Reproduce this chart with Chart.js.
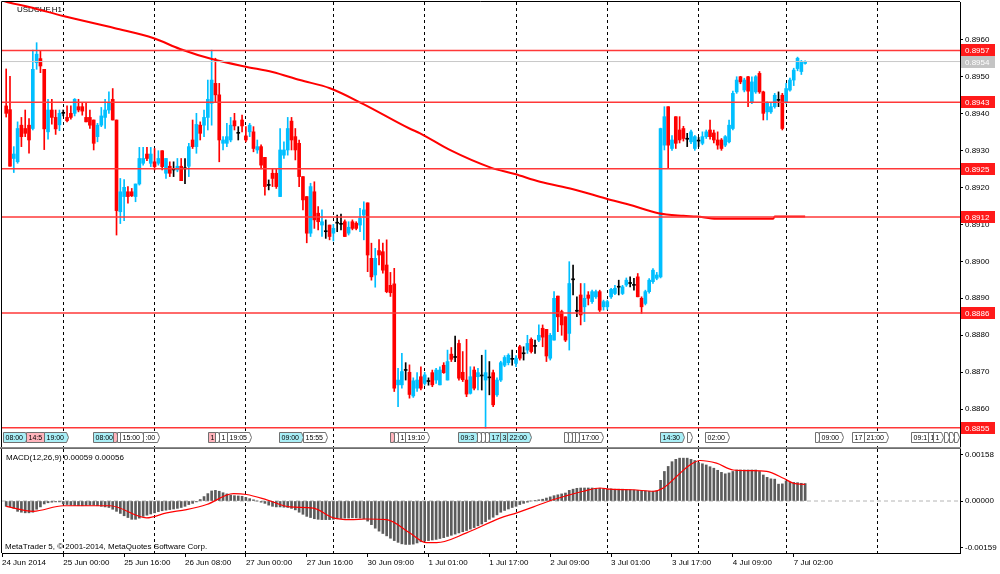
<!DOCTYPE html>
<html>
<head>
<meta charset="utf-8">
<script src="https://cdn.jsdelivr.net/npm/chart.js@4.4.1/dist/chart.umd.min.js"></script>
<style>
  html, body { margin: 0; padding: 0; background: #fff; }
  #wrap { position: relative; width: 1000px; height: 574px; overflow: hidden; }
  #priceChart { position: absolute; left: 0; top: 0; }
  #macdChart { position: absolute; left: 0; top: 448px; }
</style>
</head>
<body>
<div id="wrap">
  <canvas id="priceChart" width="1000" height="448"></canvas>
  <canvas id="macdChart" width="1000" height="126"></canvas>
</div>
<script>
// USDCHF H1 candles, prices in 1/10000 (8942 = 0.8942), one bar per hour
const op = [8942,8941,8927.8,8926.9,8936.8,8935.9,8936.8,8935.9,8953.7,8954.8,
  8951.9,8935,8940.9,8938.9,8936.9,8940,8938.9,8940,8940,8941.8,
  8941.8,8938.9,8938.9,8938.2,8933.7,8936.8,8938.9,8940.9,8943.8,8938.2,
  8913.4,8917.5,8918.8,8918.8,8917.5,8920.9,8926.5,8929,8926.5,8926.9,
  8926.5,8929.9,8923.8,8925.7,8924.7,8924.7,8925.7,8925,8925.7,8932.8,
  8931,8936.8,8936.8,8938.9,8942.7,8948.1,8945,8931.9,8931.9,8932.8,
  8938,8934.6,8938.2,8933.9,8935,8935,8930.1,8931,8928.1,8920.5,
  8923.8,8923.8,8917.5,8928.7,8930.1,8937.9,8933.7,8931.9,8922.9,8917.5,
  8907.6,8918.8,8913,8909.8,8908,8909.8,8907.6,8910.3,8910,8910.7,
  8907.6,8910.7,8910.3,8909.8,8912.5,8915.8,8900.8,8896.3,8902.9,8902.6,
  8899,8893.5,8893.9,8866.6,8866.6,8870.5,8870,8863.6,8865.7,8868.8,
  8867,8867.5,8869.9,8867.9,8866.6,8871.9,8867.9,8874.9,8874,8877.8,
  8870,8867.9,8864.3,8870.6,8868.8,8869,8867.9,8868.5,8869.9,8863.9,
  8867.9,8871.9,8872.6,8873.5,8872.4,8876.9,8875,8876,8878.9,8877,
  8878.7,8881.9,8881.6,8873.8,8878.7,8890.6,8886.4,8885,8880.5,8895,
  8886.5,8890.9,8887.7,8890.9,8889.1,8890.4,8891.8,8887.7,8887.7,8890.4,
  8891.3,8893,8891.3,8893.6,8894,8893.5,8895.8,8890,8888.6,8891.8,
  8894.5,8895.4,8895.8,8931.4,8941.8,8930.5,8939.1,8935.5,8935.9,8933,
  8932.3,8930.5,8932.5,8931.9,8933.7,8935.5,8934.7,8932.8,8932.8,8931.4,
  8932.3,8935.9,8945.8,8949.9,8946.3,8949.9,8943.1,8945.8,8950.8,8945.8,
  8940.4,8940.4,8941.8,8943.5,8944.9,8943.1,8946.3,8949,8952.1,8951.3,
  8953.5];
const hi = [8952,8950,8931,8937.7,8938.9,8940.9,8938.6,8957.1,8959.1,8956.9,
  8951.9,8943.8,8943.8,8940.9,8940.9,8940.9,8942,8942,8944,8943.8,
  8942.9,8942.9,8940.9,8938.2,8937.3,8941.6,8943.8,8945.8,8946.7,8938.2,
  8922.4,8922.1,8920.2,8919.7,8920.9,8930.8,8930.8,8930.8,8930.8,8930.5,
  8929.9,8929.9,8927.8,8926.9,8926.9,8927.8,8927.8,8927.8,8931.9,8938.2,
  8940,8937.7,8940.9,8949,8957.1,8954.9,8948.1,8933.7,8937.3,8938.9,
  8940,8936.4,8939.5,8936.4,8937.3,8936.4,8932.8,8931.5,8928.1,8922,
  8925.1,8925.1,8935.9,8932.3,8938.9,8938.9,8935.9,8932.8,8922.9,8917.5,
  8921.1,8921.5,8914.8,8913.9,8911.2,8909.8,8910,8912.5,8912.8,8911.2,
  8910.7,8911.2,8910.7,8914.3,8916.1,8915.8,8904.9,8903.5,8905.9,8904.9,
  8905.8,8897,8898.1,8871.1,8875.1,8872.6,8872,8868.5,8869.9,8871.5,
  8870,8868.5,8870.6,8871.1,8871.5,8872.6,8876,8876.7,8879.8,8878.7,
  8875.6,8878.9,8871.5,8871.5,8871.1,8874.6,8876,8872.9,8870.6,8868.5,
  8873,8874.5,8875,8876,8874.5,8877.3,8876.9,8880,8879.3,8878.7,
  8882.8,8882.8,8881.6,8880.5,8891.8,8890.6,8886.8,8885,8899.9,8899,
  8890.4,8894,8894,8891.8,8892.2,8892.2,8892.2,8889.5,8889.5,8892.7,
  8893.5,8894.9,8893.5,8895.5,8895.8,8895.4,8896.7,8890.4,8892.2,8895.3,
  8898,8897,8936,8941.8,8941.8,8934,8939.1,8939.1,8936.5,8934.6,
  8935.5,8934,8933.5,8935,8935.5,8938.2,8935.5,8935,8933.2,8934,
  8938.2,8946,8949.9,8950,8949.5,8950,8949.9,8950.2,8951.3,8946,
  8943.1,8943,8945.4,8945.8,8945.4,8948.1,8949.5,8952.2,8955.2,8954.3,
  8954.2];
const lo = [8939,8925.7,8924,8926.5,8931,8933.7,8929.2,8935.5,8951.9,8951,
  8930.2,8933,8937.1,8934.3,8935.3,8939.3,8937.7,8938.4,8939.3,8940.4,
  8939.5,8937.7,8935.9,8930.1,8932.3,8936.4,8935.9,8940,8938.2,8907.1,
  8910.2,8911,8915.7,8917.5,8916.1,8920.6,8926,8927.2,8925.6,8924.7,
  8926,8924.7,8922.4,8922.9,8922.9,8924.2,8921.8,8921,8922.9,8930.5,
  8929.2,8932.8,8933.7,8935.5,8936.8,8943.1,8926.9,8930.1,8931,8932.3,
  8935.5,8932.8,8935,8932.3,8933.7,8929.6,8929.2,8925,8917.9,8919.3,
  8920.2,8919.7,8917.5,8927.8,8928.7,8930.1,8927.4,8920.2,8913.9,8905,
  8906.7,8908.9,8908.5,8906.7,8906.2,8905.8,8905.5,8908,8908.5,8906.7,
  8907.1,8908.5,8908.5,8908,8905.8,8897.2,8894.9,8893,8899,8896.8,
  8891.5,8890.5,8864.8,8860.7,8865.7,8867.9,8863,8863.2,8864.8,8865.2,
  8866.5,8866.5,8866.1,8867,8866.6,8869.7,8867.9,8872.9,8872.9,8867.9,
  8867.5,8863.4,8864.1,8865.2,8865.2,8865.2,8854.9,8863.9,8860.7,8863.5,
  8867.5,8871.5,8872,8871.9,8871.5,8873.3,8873.3,8875.1,8875.2,8875.1,
  8878.3,8876.9,8872.9,8873.3,8878.7,8881,8880,8878.3,8876,8890.9,
  8885,8882.8,8883.7,8888.2,8888.6,8890,8886.4,8886.8,8887,8890,
  8891,8890.9,8891,8893.2,8893.1,8892.2,8890.4,8885.9,8888.2,8891.4,
  8894,8895,8895.5,8930.1,8925.1,8930,8930.5,8932,8932.5,8931,
  8931.8,8930,8931,8931.5,8933.2,8933,8932,8930.3,8930,8931,
  8932,8935.5,8945.4,8948,8945.8,8941.8,8942.6,8945.4,8945.4,8938.2,
  8938.2,8940,8941.4,8941.8,8935.5,8942.7,8946,8947.5,8951.5,8950.5,
  8953.3];
const cl = [8940,8925.7,8929,8935.9,8933.7,8934.6,8932.8,8951.9,8956,8952.8,
  8935.8,8940.9,8938.9,8935.8,8940,8940,8938,8938.9,8943.8,8940.9,
  8940.6,8937.7,8936.8,8931.9,8936.8,8939.3,8940.9,8942.7,8938.2,8913.7,
  8918.8,8920,8917.5,8917.7,8920.9,8927.8,8927.8,8927.8,8929,8925.6,
  8927.8,8925.6,8927.8,8923.8,8924.7,8925.7,8921.8,8925,8931,8931,
  8937,8934.6,8938.9,8943.8,8949,8945,8932.8,8932.8,8933.7,8936.8,
  8936.6,8934.6,8936.6,8932.8,8936.8,8930.5,8931,8926,8920.2,8920.5,
  8922.4,8920.2,8930.1,8930.1,8935.9,8932.8,8930.1,8922.9,8916.6,8907.6,
  8920.2,8911.2,8910.7,8910.7,8908,8906.7,8908.9,8910.3,8910,8906.7,
  8909.2,8908.9,8908.9,8911.6,8913.9,8901.7,8895.8,8900.8,8901.7,8897.6,
  8891.8,8891.5,8865.7,8867.9,8870.2,8870.5,8864,8867.7,8867.9,8865.7,
  8869.3,8867.5,8866.6,8870.6,8870.6,8869.9,8872.9,8873.5,8874,8868.4,
  8868,8864.1,8868.8,8865.7,8869.9,8869,8869.9,8868.5,8861.2,8867.9,
  8872.6,8874,8874.6,8873.5,8873.8,8873.8,8875,8877.8,8875.6,8877,
  8880,8879.5,8874.4,8880,8890,8885,8882.8,8878.7,8894,8895,
  8886.5,8885.5,8890,8890,8891.8,8891.8,8886.8,8889.1,8889.1,8892.4,
  8892.7,8893,8893.1,8894.9,8894,8893.5,8890.4,8887.7,8891.8,8894.9,
  8897.6,8896.3,8935.9,8939.1,8931.4,8932.8,8931.9,8932.8,8933.2,8933,
  8935,8933.7,8932.5,8933.7,8935,8933.7,8932.8,8931.4,8930.5,8933.7,
  8936.8,8945.4,8949,8948.5,8949,8946,8948.5,8949.9,8945.8,8940,
  8942.7,8941.8,8944.9,8943.5,8935.9,8946.7,8949,8951.7,8954.9,8953.9,
  8954];

// moving average (bar index, price/10000)
const maIdx = [-1.1, 1, 6.3, 15, 28.6, 38.8, 45.7, 54.3, 63, 70, 77.2, 85.1, 93.9, 106, 108.8,
  116.6, 127.2, 133.7, 140.3, 149, 157.6, 164.8, 171.4, 178, 181.5, 186.7, 201.6, 202, 210];
const maVal = [8970.5, 8969.9, 8968.7, 8966.3, 8963, 8960.3, 8957.4, 8954.6, 8952.6, 8951.2, 8949, 8946.8, 8942.5, 8935.9, 8934.6,
  8930.1, 8925.4, 8923.6, 8921.5, 8919.5, 8917, 8915, 8913, 8912.3, 8912.1, 8911.5, 8911.5, 8912.1, 8912.1];

// horizontal levels
const lineVals = [0.8957, 0.8943, 0.8925, 0.8912, 0.8886, 0.8855];
const lineText = ['0.8957', '0.8943', '0.8925', '0.8912', '0.8886', '0.8855'];
const bidVal = 0.8954;
const bidText = '0.8954';

// MACD(12,26,9) main histogram in 1e-5 units, one per bar
const macdHist = [-18,-20,-25,-35,-38,-40,-40,-38,-28,-20,
  -10,-6,-4,-3,-3,-10,-12,-14,-15,-16,
  -16,-15,-14,-14,-16,-18,-20,-22,-28,-35,
  -42,-50,-56,-62,-62,-58,-52,-48,-44,-40,
  -36,-33,-31,-29,-27,-25,-22,-18,-12,-8,
  -3,5,15,25,34,36,33,28,24,20,
  18,17,16,12,8,4,0,-4,-8,-14,
  -18,-20,-20,-21,-22,-25,-30,-38,-45,-52,
  -56,-60,-62,-63,-63,-63,-62,-60,-59,-58,
  -58,-57,-57,-58,-60,-68,-80,-92,-102,-110,
  -118,-126,-134,-140,-145,-147,-147,-146,-142,-138,
  -136,-134,-132,-130,-127,-124,-120,-116,-112,-108,
  -104,-100,-95,-90,-84,-78,-70,-62,-55,-47,
  -38,-32,-27,-22,-18,-12,-8,-4,0,2,
  4,6,10,14,18,21,24,27,36,40,
  43,44,44,44,44,43,43,42,41,41,
  40,40,40,39,38,37,36,35,34,33,
  33,34,70,100,117,133,141,145,145,145,
  141,137,130,126,122,116,111,104,97,92,
  95,100,105,105,105,105,105,105,100,88,
  80,75,74,57,58,68,63,63,62,60,
  59];
// signal line points (bar index, 1e-5 units)
const sigIdx = [0, 7.1, 15, 27.3, 36.9, 42.2, 47.4, 52.7, 59.7, 63.2, 68.5, 74.6, 80.7, 86, 90.4, 94.7, 100,
  106.1, 110.5, 113.1, 121, 129.8, 134.2, 138.6, 142.9, 147.3, 151.7, 156.1, 158.7, 164.8, 170.1, 172.7,
  176.2, 179.7, 182.4, 186.7, 191.1, 195.5, 199.9, 204.3, 206.9, 210];
const sigVal = [-18, -35, -16, -16, -57, -40, -29, -12, 25, 22, 4, -20, -24, -57, -63, -61, -63,
  -108, -141, -141, -108, -58, -40, -20, 1, 18, 33, 44, 40, 38, 33, 44,
  83, 122, 137, 128, 105, 103, 100, 77, 60, 56];

// time axis
const dayIdx = [15, 39, 63, 86, 110, 134, 158, 182, 205, 229];
const X0 = -1.1, X1 = 250.7;
const tickIdx = [X0, 15, 31, 47, 63, 79, 95, 111, 127, 143, 159, 175, 191, 207];
const tickText = ['24 Jun 2014', '25 Jun 00:00', '25 Jun 16:00', '26 Jun 08:00', '27 Jun 00:00', '27 Jun 16:00',
  '30 Jun 09:00', '1 Jul 01:00', '1 Jul 17:00', '2 Jul 09:00', '3 Jul 01:00', '3 Jul 17:00', '4 Jul 09:00', '7 Jul 02:00'];
const priceTicks = [0.886, 0.887, 0.888, 0.889, 0.890, 0.891, 0.892, 0.893, 0.894, 0.895, 0.896];
const macdTicks = [0.00158, 0, -0.00159];

// calendar event flags along the bottom of the price window
const evIdx = [-0.9, 5.2, 10, 22.8, 28, 29, 29.9, 36, 53, 54.9, 55.9, 58, 71.7, 78, 100.9, 101.9, 103, 104.8,
  118.7, 123.7, 124.8, 125.8, 126.9, 129.8, 131.6, 146.6, 147.6, 148.7, 149.5, 150.5, 171.8, 178.9, 183.7,
  212.6, 213.6, 222.3, 225.4, 237.8, 242.3, 243.6, 246.5, 247.8, 249.2];
const evText = ['08:00', '14:5', '19:00', '08:00', '', '', '15:00', ':00', '1', '', '1', '19:05', '09:00', '15:55', '', '', '1', '19:10',
  '09:3', '', '', '', '17', '3', '22:00', '', '', '', '', '17:00', '14:30', '', '02:00',
  '', '09:00', '17', '21:00', '09:1', '1', '1', '', '', ''];
const evKind = ['c', 'p', 'c', 'c', 'p', 'w', 'w', 'w', 'p', 'w', 'w', 'w', 'c', 'w', 'p', 'w', 'w', 'w',
  'c', 'w', 'w', 'w', 'c', 'c', 'c', 'w', 'w', 'w', 'w', 'w', 'c', 'w', 'w',
  'w', 'w', 'w', 'w', 'w', 'w', 'w', 'w', 'w', 'w'];

const symbolText = 'USDCHF,H1';
const macdText = 'MACD(12,26,9) 0.00059 0.00056';
const copyText = 'MetaTrader 5, \u00A9 2001-2014, MetaQuotes Software Corp.';

const fontFam = '"Liberation Sans", Arial, sans-serif';
Chart.defaults.font.family = fontFam;
Chart.defaults.font.size = 8;
Chart.defaults.color = '#000';

const upColor = '#00bfff', downColor = '#ff0000', flatColor = '#000000';
const evFill = { c: '#a8eef6', p: '#ffb4bc', w: '#ffffff' };

const candleColors = op.map((o, i) => cl[i] > o ? upColor : (cl[i] < o ? downColor : flatColor));
const wickData = op.map((o, i) => ({ x: i, y: [lo[i] / 1e4, hi[i] / 1e4] }));
const bodyData = op.map((o, i) => ({ x: i, y: [o / 1e4, cl[i] / 1e4] }));

function dayAxis() {
  return {
    type: 'linear', axis: 'x', position: 'bottom', min: X0, max: X1, offset: false,
    afterBuildTicks: s => { s.ticks = dayIdx.map(v => ({ value: v })); },
    ticks: { display: false },
    grid: { color: '#000', lineWidth: 1, drawTicks: false, offset: false },
    border: { display: false, dash: [3, 3] },
    afterFit: s => { s.height = 0; s.paddingLeft = 0; s.paddingRight = 0; }
  };
}

const priceDecor = {
  id: 'priceDecor',
  beforeDatasetsDraw(chart) {
    const { ctx, chartArea: a } = chart;
    ctx.save();
    ctx.font = '8px ' + fontFam;
    ctx.fillStyle = '#000';
    ctx.textBaseline = 'top';
    ctx.fillText(symbolText, a.left + 15, a.top + 4);
    ctx.restore();
  },
  afterDatasetsDraw(chart) {
    const { ctx, chartArea: a } = chart;
    const xs = chart.scales.x;
    const top = a.bottom - 14.5, h = 10;
    ctx.save();
    ctx.font = '7px ' + fontFam;
    ctx.textBaseline = 'middle';
    evIdx.forEach((v, k) => {
      const left = Math.round(xs.getPixelForValue(v)) + 0.5;
      const w = evText[k] ? Math.ceil(ctx.measureText(evText[k]).width) + 4 : 3;
      ctx.beginPath();
      ctx.moveTo(left, top);
      ctx.lineTo(left + w, top);
      ctx.lineTo(left + w + 2, top + h / 2);
      ctx.lineTo(left + w, top + h);
      ctx.lineTo(left, top + h);
      ctx.closePath();
      ctx.fillStyle = evFill[evKind[k]];
      ctx.fill();
      ctx.strokeStyle = '#707070';
      ctx.lineWidth = 1;
      ctx.stroke();
      if (evText[k]) {
        ctx.fillStyle = '#000';
        ctx.fillText(evText[k], left + 2, top + h / 2 + 0.5);
      }
    });
    ctx.restore();
  },
  afterDraw(chart) {
    const { ctx, chartArea: a } = chart;
    const ys = chart.scales.y;
    ctx.save();
    // frame
    ctx.strokeStyle = '#000';
    ctx.lineWidth = 1;
    ctx.beginPath();
    ctx.moveTo(a.left - 0.5, a.bottom);
    ctx.lineTo(a.left - 0.5, a.top - 0.5);
    ctx.lineTo(a.right, a.top - 0.5);
    ctx.stroke();
    ctx.fillStyle = '#8c8c8c';
    ctx.fillRect(0, a.bottom, a.right + 1, 1);
    // level price tags
    ctx.font = '8px ' + fontFam;
    ctx.textBaseline = 'middle';
    const tag = (v, text, bg) => {
      const y = Math.round(ys.getPixelForValue(v));
      ctx.fillStyle = bg;
      ctx.fillRect(a.right + 1, y - 6, 34, 12);
      ctx.fillStyle = '#fff';
      ctx.fillText(text, a.right + 5, y + 0.5);
    };
    lineVals.forEach((v, k) => tag(v, lineText[k], '#ff1a1a'));
    tag(bidVal, bidText, '#c4c4c4');
    ctx.restore();
  }
};

const macdDecor = {
  id: 'macdDecor',
  afterDraw(chart) {
    const { ctx, chartArea: a } = chart;
    ctx.save();
    ctx.fillStyle = '#6e6e6e';
    ctx.fillRect(0, 0, a.right + 1, 1);
    ctx.strokeStyle = '#000';
    ctx.lineWidth = 1;
    ctx.beginPath();
    ctx.moveTo(a.left - 0.5, a.top);
    ctx.lineTo(a.left - 0.5, a.bottom);
    ctx.stroke();
    ctx.font = '8px ' + fontFam;
    ctx.fillStyle = '#000';
    ctx.textBaseline = 'top';
    ctx.fillText(macdText, a.left + 4, a.top + 5);
    ctx.fillText(copyText, a.left + 3, a.bottom - 10);
    ctx.restore();
  }
};

new Chart(document.getElementById('priceChart'), {
  type: 'bar',
  data: {
    datasets: [
      ...lineVals.map(v => ({
        type: 'line', data: [{ x: X0, y: v }, { x: X1, y: v }],
        borderColor: '#ff3838', borderWidth: 1.5, pointRadius: 0, order: 0
      })),
      {
        type: 'line', data: [{ x: X0, y: bidVal }, { x: X1, y: bidVal }],
        borderColor: '#c8c8c8', borderWidth: 1, pointRadius: 0, order: 0
      },
      {
        type: 'line', data: maIdx.map((v, k) => ({ x: v, y: maVal[k] / 1e4 })),
        borderColor: '#ff0000', borderWidth: 2, pointRadius: 0,
        cubicInterpolationMode: 'monotone', order: 0
      },
      {
        type: 'bar', data: bodyData, backgroundColor: candleColors,
        barThickness: 3, grouped: false, minBarLength: 1, borderWidth: 0, order: 1
      },
      {
        type: 'bar', data: wickData, backgroundColor: candleColors,
        barThickness: 1, grouped: false, borderWidth: 0, order: 2
      }
    ]
  },
  options: {
    responsive: false,
    animation: false,
    events: [],
    layout: { padding: { left: 2, top: 2, right: 0, bottom: 1 } },
    plugins: { legend: { display: false }, tooltip: { enabled: false } },
    scales: {
      x: dayAxis(),
      y: {
        type: 'linear', position: 'right', min: 0.88498, max: 0.89701, beginAtZero: false,
        afterBuildTicks: s => { s.ticks = priceTicks.map(v => ({ value: v })); },
        ticks: { color: '#000', padding: 2, font: { size: 8 }, callback: v => v.toFixed(4) },
        grid: { drawOnChartArea: false, drawTicks: true, tickLength: 3, tickColor: '#000' },
        border: { display: true, color: '#000' },
        afterFit: s => { s.width = 40; s.paddingTop = 0; s.paddingBottom = 0; }
      }
    }
  },
  plugins: [priceDecor]
});

new Chart(document.getElementById('macdChart'), {
  type: 'bar',
  data: {
    datasets: [
      {
        type: 'line', data: [{ x: X0, y: 0 }, { x: X1, y: 0 }], xAxisID: 'x',
        borderColor: '#b4b4b4', borderWidth: 1, borderDash: [4, 3], pointRadius: 0, order: 3
      },
      {
        type: 'bar', data: macdHist.map((v, i) => ({ x: i, y: v / 1e5 })), xAxisID: 'x',
        backgroundColor: '#5c5c5c', barThickness: 2, grouped: false, borderWidth: 0, order: 2
      },
      {
        type: 'line', data: sigIdx.map((v, k) => ({ x: v, y: sigVal[k] / 1e5 })), xAxisID: 'x',
        borderColor: '#ff0000', borderWidth: 1.2, pointRadius: 0,
        cubicInterpolationMode: 'monotone', order: 1
      }
    ]
  },
  options: {
    responsive: false,
    animation: false,
    events: [],
    layout: { padding: { left: 2, top: 1, right: 0, bottom: 0 } },
    plugins: { legend: { display: false }, tooltip: { enabled: false } },
    scales: {
      x: {
        type: 'linear', position: 'bottom', min: X0, max: X1, offset: false,
        afterBuildTicks: s => { s.ticks = tickIdx.map(v => ({ value: v })); },
        ticks: {
          autoSkip: false, maxRotation: 0, align: 'start', padding: 1, color: '#000',
          font: { size: 8 }, callback: (v, k) => tickText[k]
        },
        grid: { drawOnChartArea: false, drawTicks: true, tickLength: 4, tickColor: '#000', offset: false },
        border: { display: true, color: '#000' },
        afterFit: s => { s.height = 21; s.paddingLeft = 0; s.paddingRight = 0; }
      },
      xd: dayAxis(),
      y: {
        type: 'linear', position: 'right', min: -0.00176, max: 0.00176, beginAtZero: false,
        afterBuildTicks: s => { s.ticks = macdTicks.map(v => ({ value: v })); },
        ticks: { color: '#000', padding: 2, font: { size: 8 }, callback: v => v.toFixed(5) },
        grid: { drawOnChartArea: false, drawTicks: true, tickLength: 3, tickColor: '#000' },
        border: { display: true, color: '#000' },
        afterFit: s => { s.width = 40; s.paddingTop = 0; s.paddingBottom = 0; }
      }
    }
  },
  plugins: [macdDecor]
});
</script>
</body>
</html>
